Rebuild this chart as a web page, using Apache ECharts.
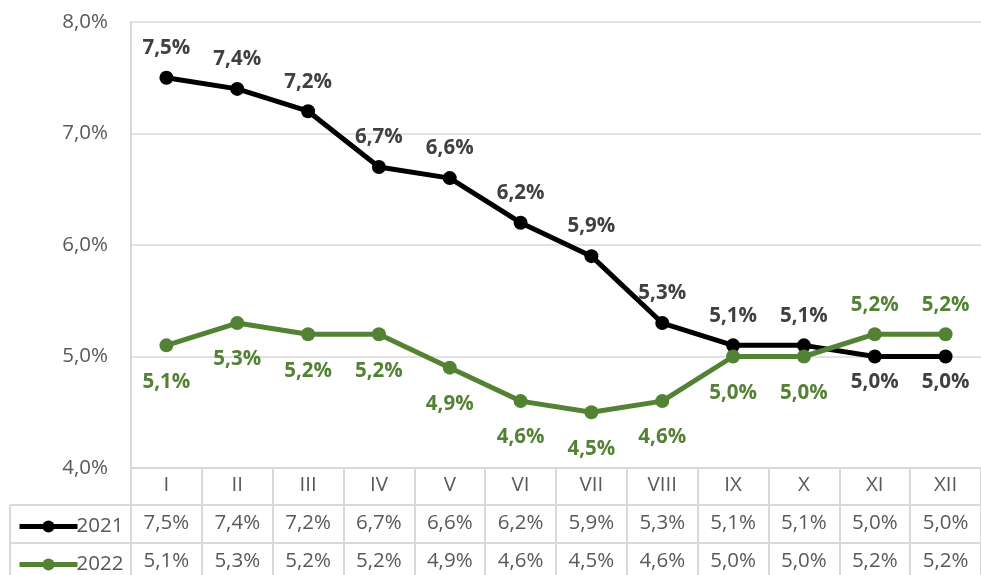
<!DOCTYPE html>
<html>
<head>
<meta charset="utf-8">
<script src="https://cdn.jsdelivr.net/npm/echarts@6/dist/echarts.min.js"></script>
<style>
  html, body { margin: 0; padding: 0; background: #fff; }
  #main { width: 981px; height: 575px; }
</style>
</head>
<body>
<div id="main"></div>
<script>
const months = ['I', 'II', 'III', 'IV', 'V', 'VI', 'VII', 'VIII', 'IX', 'X', 'XI', 'XII'];
const rate2021 = [7.5, 7.4, 7.2, 6.7, 6.6, 6.2, 5.9, 5.3, 5.1, 5.1, 5.0, 5.0];
const rate2022 = [5.1, 5.3, 5.2, 5.2, 4.9, 4.6, 4.5, 4.6, 5.0, 5.0, 5.2, 5.2];
const yTicks = [4, 5, 6, 7, 8];

const FONT = '"Open Sans", sans-serif';
const FS = 20.5;
const GRAY = '#595959';
const LINE = '#d9d9d9';
const BLACK = '#000000';
const GREEN = '#548235';

// 7.5 -> "7,5%"
const pct = v => v.toFixed(1).replace('.', ',') + '%';

const chartDom = document.getElementById('main');
const myChart = echarts.init(chartDom);

// label goes above when this series is higher (or equal) than the other one
const makeData = (vals, other, labelColor, distTop, distBottom) => vals.map((v, i) => {
  const above = v >= other[i];
  return {
    value: v,
    label: { position: above ? 'top' : 'bottom', distance: above ? distTop : distBottom, color: labelColor }
  };
});

const rowAxis = (vals, offset) => ({
  type: 'category',
  gridIndex: 0,
  position: 'bottom',
  offset: offset,
  data: vals.map(pct),
  axisLine: { show: false },
  axisTick: { show: false },
  axisLabel: { interval: 0, margin: 7, color: GRAY, fontSize: FS, fontFamily: FONT }
});

const legendRow = (name, top) => ({
  left: 12,
  top: top,
  itemWidth: 58,
  itemHeight: 15,
  data: [name],
  lineStyle: { width: 5 },
  textStyle: { color: GRAY, fontSize: FS, fontFamily: FONT, padding: [0, 0, 0, -6] }
});

const option = {
  backgroundColor: '#ffffff',
  animation: false,
  grid: { left: 131, top: 22, width: 862, height: 446, containLabel: false },
  legend: [legendRow('2021', 511), legendRow('2022', 549)],
  xAxis: [
    {
      type: 'category',
      data: months,
      boundaryGap: true,
      axisLine: { show: true, lineStyle: { color: LINE, width: 2 } },
      axisTick: { show: true, inside: false, length: 112, lineStyle: { color: LINE, width: 2 } },
      axisLabel: { interval: 0, margin: 7, color: GRAY, fontSize: FS, fontFamily: FONT },
      splitLine: { show: false }
    },
    rowAxis(rate2021, 38),
    rowAxis(rate2022, 76)
  ],
  yAxis: {
    type: 'value',
    min: yTicks[0],
    max: yTicks[yTicks.length - 1],
    interval: 1,
    axisLine: { show: true, lineStyle: { color: LINE, width: 2 } },
    axisTick: { show: false },
    axisLabel: { margin: 23, color: GRAY, fontSize: FS, fontFamily: FONT, formatter: v => pct(v) },
    splitLine: { show: true, lineStyle: { color: LINE, width: 1.5 } }
  },
  graphic: [
    // table borders left of the plot
    { type: 'line', shape: { x1: 10, y1: 505, x2: 993, y2: 505 }, style: { stroke: LINE, lineWidth: 2 } },
    { type: 'line', shape: { x1: 10, y1: 543, x2: 993, y2: 543 }, style: { stroke: LINE, lineWidth: 2 } },
    { type: 'line', shape: { x1: 10, y1: 505, x2: 10, y2: 580 }, style: { stroke: LINE, lineWidth: 2 } }
  ],
  series: [
    {
      name: '2021',
      type: 'line',
      data: makeData(rate2021, rate2022, '#404040', 12, 8),
      symbol: 'circle',
      symbolSize: 14,
      itemStyle: { color: BLACK },
      lineStyle: { color: BLACK, width: 5 },
      label: {
        show: true, fontSize: FS, fontWeight: 'bold', fontFamily: FONT,
        formatter: p => pct(p.value)
      },
      z: 3
    },
    {
      name: '2022',
      type: 'line',
      data: makeData(rate2022, rate2021, GREEN, 12, 19),
      symbol: 'circle',
      symbolSize: 14,
      itemStyle: { color: GREEN },
      lineStyle: { color: GREEN, width: 5 },
      label: {
        show: true, fontSize: FS, fontWeight: 'bold', fontFamily: FONT,
        formatter: p => pct(p.value)
      },
      z: 4
    }
  ]
};

myChart.setOption(option);
</script>
</body>
</html>
